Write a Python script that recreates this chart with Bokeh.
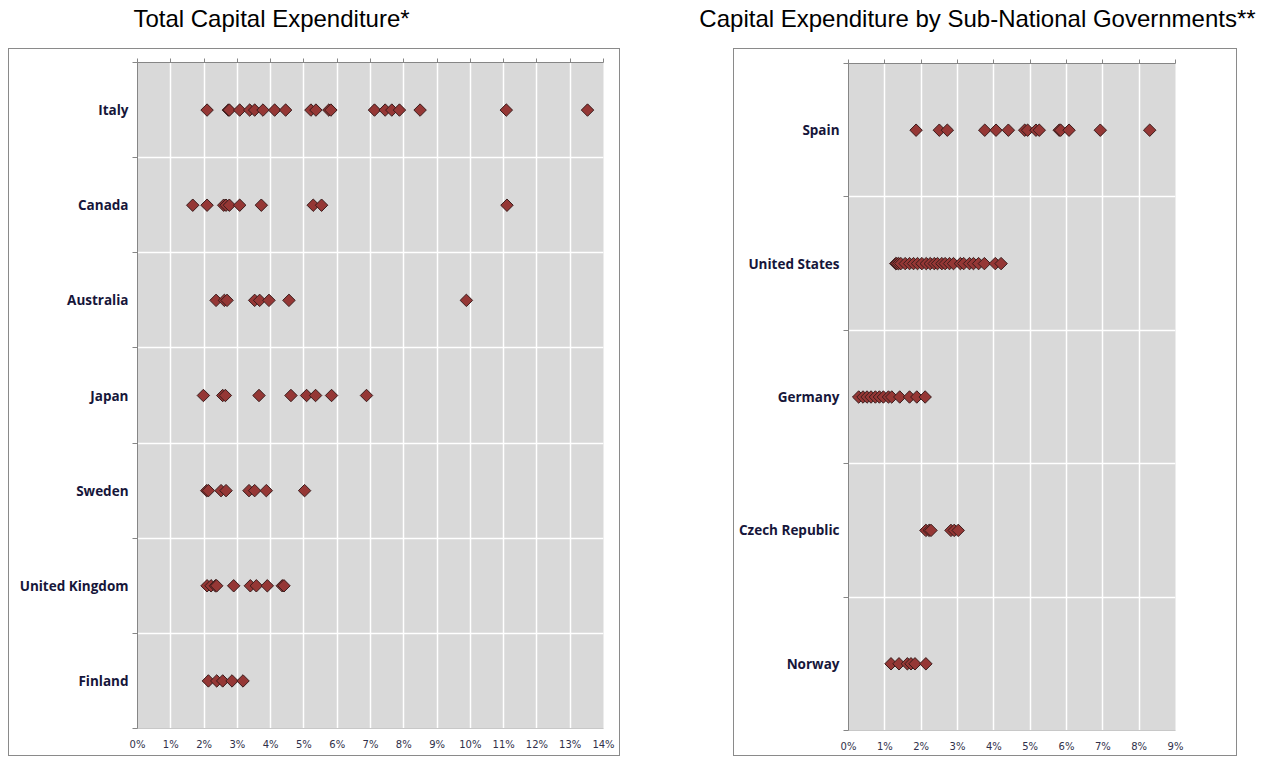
import math
from bokeh.plotting import figure
from bokeh.models import (Range1d, LinearAxis, FixedTicker, Grid, PrintfTickFormatter,
                          Label, Spacer, ColumnDataSource)
from bokeh.layouts import column, row
from bokeh.embed import file_html
from bokeh.resources import INLINE

# ---------------- data (percent) ----------------
left_title = "Total Capital Expenditure*"
left_categories = ["Italy", "Canada", "Australia", "Japan", "Sweden", "United Kingdom", "Finland"]
italy = [2.09, 2.73, 2.76, 3.07, 3.37, 3.52, 3.77, 4.12, 4.45, 5.21, 5.36, 5.75, 5.81,
         7.12, 7.44, 7.64, 7.87, 8.49, 11.08, 13.52]
canada = [1.66, 2.09, 2.59, 2.66, 2.76, 3.07, 3.72, 5.28, 5.53, 11.10]
australia = [2.36, 2.61, 2.69, 3.52, 3.67, 3.95, 4.55, 9.88]
japan = [1.98, 2.56, 2.64, 3.65, 4.61, 5.08, 5.35, 5.83, 6.88]
sweden = [2.08, 2.13, 2.51, 2.66, 3.35, 3.52, 3.87, 5.02]
united_kingdom = [2.09, 2.21, 2.34, 2.38, 2.89, 3.39, 3.57, 3.90, 4.35, 4.40]
finland = [2.13, 2.38, 2.56, 2.84, 3.17]
left_values = [italy, canada, australia, japan, sweden, united_kingdom, finland]
left_ticks = list(range(0, 15))

right_title = "Capital Expenditure by Sub-National Governments**"
right_categories = ["Spain", "United States", "Germany", "Czech Republic", "Norway"]
spain = [1.86, 2.50, 2.72, 3.75, 4.06, 4.40, 4.85, 4.93, 5.16, 5.25, 5.80, 5.84, 6.07, 6.93, 8.29]
united_states = [1.30, 1.33, 1.38, 1.44, 1.56, 1.68, 1.79, 1.90, 2.02, 2.14, 2.25, 2.36, 2.45,
                 2.57, 2.66, 2.78, 2.89, 3.08, 3.17, 3.33, 3.44, 3.58, 3.74, 4.04, 4.20]
germany = [0.28, 0.40, 0.51, 0.62, 0.74, 0.85, 0.96, 1.10, 1.19, 1.41, 1.68, 1.88, 2.11]
czech_republic = [2.13, 2.22, 2.27, 2.82, 2.91, 3.02]
norway = [1.17, 1.39, 1.62, 1.72, 1.83, 2.13]
right_values = [spain, united_states, germany, czech_republic, norway]
right_ticks = list(range(0, 10))

# ---------------- styles ----------------
PLOT_BG = "#d9d9d9"
AXIS_GRAY = "#868686"
BOX_BORDER = "1px solid #8a8a8a"
FILL = "#953735"
EDGE = "#3a1c1c"
LABEL_COLOR = "#16163a"
TICK_LABEL_COLOR = "#30304a"


def make_chart(categories, values, ticks, width, height, bl, br, bt, bb):
    n = len(categories)
    p = figure(width=width, height=height, output_backend="svg", toolbar_location=None,
               x_range=Range1d(ticks[0], ticks[-1]), y_range=Range1d(0, n),
               x_axis_type=None, y_axis_type=None,
               min_border_left=bl, min_border_right=br, min_border_top=bt, min_border_bottom=bb,
               background_fill_color=PLOT_BG, border_fill_color="white",
               outline_line_color=None)

    xs, ys = [], []
    for i, vals in enumerate(values):
        for v in vals:
            xs.append(v)
            ys.append(n - i - 0.5)
    src = ColumnDataSource(dict(x=xs, y=ys))

    # grids
    p.add_layout(Grid(dimension=0, ticker=FixedTicker(ticks=ticks),
                      grid_line_color="white", grid_line_width=1.5))
    p.add_layout(Grid(dimension=1, ticker=FixedTicker(ticks=list(range(1, n))),
                      grid_line_color="white", grid_line_width=1.5))

    # bottom axis with labels
    xb = LinearAxis(ticker=FixedTicker(ticks=ticks), formatter=PrintfTickFormatter(format="%d%%"),
                    major_tick_out=0, major_tick_in=0, minor_tick_out=0, minor_tick_in=0,
                    axis_line_color="#c8c8c8", major_label_standoff=10,
                    major_label_text_font="DejaVu Sans", major_label_text_font_size="10px",
                    major_label_text_color=TICK_LABEL_COLOR)
    p.add_layout(xb, "below")

    # top axis: tick marks only (labels not drawn)
    xt = LinearAxis(ticker=FixedTicker(ticks=ticks), major_tick_out=4, major_tick_in=0,
                    minor_tick_out=0, minor_tick_in=0, axis_line_color=AXIS_GRAY,
                    major_tick_line_color=AXIS_GRAY, major_label_text_font_size="1px",
                    major_label_text_color=None, major_label_standoff=0)
    p.add_layout(xt, "above")

    # left category axis: labels at centres, tick marks at boundaries
    centers = [n - i - 0.5 for i in range(n)]
    yl = LinearAxis(ticker=FixedTicker(ticks=centers, minor_ticks=list(range(0, n + 1))),
                    major_label_overrides={c: name for c, name in zip(centers, categories)},
                    major_tick_out=0, major_tick_in=0, minor_tick_out=5, minor_tick_in=0,
                    minor_tick_line_color=AXIS_GRAY, axis_line_color=AXIS_GRAY,
                    major_label_standoff=4,
                    major_label_text_font="Open Sans", major_label_text_font_style="bold",
                    major_label_text_font_size="13.5px", major_label_text_color=LABEL_COLOR)
    p.add_layout(yl, "left")

    p.scatter("x", "y", source=src, marker="square", angle=math.pi / 4, size=8.8,
              fill_color=FILL, line_color=EDGE, line_width=1)
    return p


left = make_chart(left_categories, left_values, left_ticks, 610, 706, 128, 16, 13, 27)
right = make_chart(right_categories, right_values, right_ticks, 502, 706, 114, 61, 14, 25)

left_box = column(left, styles={"border": BOX_BORDER})
right_box = column(right, styles={"border": BOX_BORDER})

# titles strip
tfig = figure(width=1257, height=48, output_backend="svg", toolbar_location=None,
              x_axis_type=None, y_axis_type=None, min_border=0,
              outline_line_color=None, background_fill_color="white", border_fill_color="white")
tfig.add_layout(Label(x=271, y=30, x_units="screen", y_units="screen", text=left_title,
                      text_align="center", text_baseline="middle", text_font="Liberation Sans",
                      text_font_size="24px", text_color="black"))
tfig.add_layout(Label(x=977, y=30, x_units="screen", y_units="screen", text=right_title,
                      text_align="center", text_baseline="middle", text_font="Liberation Sans",
                      text_font_size="24px", text_color="black"))

layout = column(tfig, row(Spacer(width=8, height=708), left_box,
                          Spacer(width=113, height=708), right_box))

open("out.html", "w").write(file_html(layout, INLINE))
